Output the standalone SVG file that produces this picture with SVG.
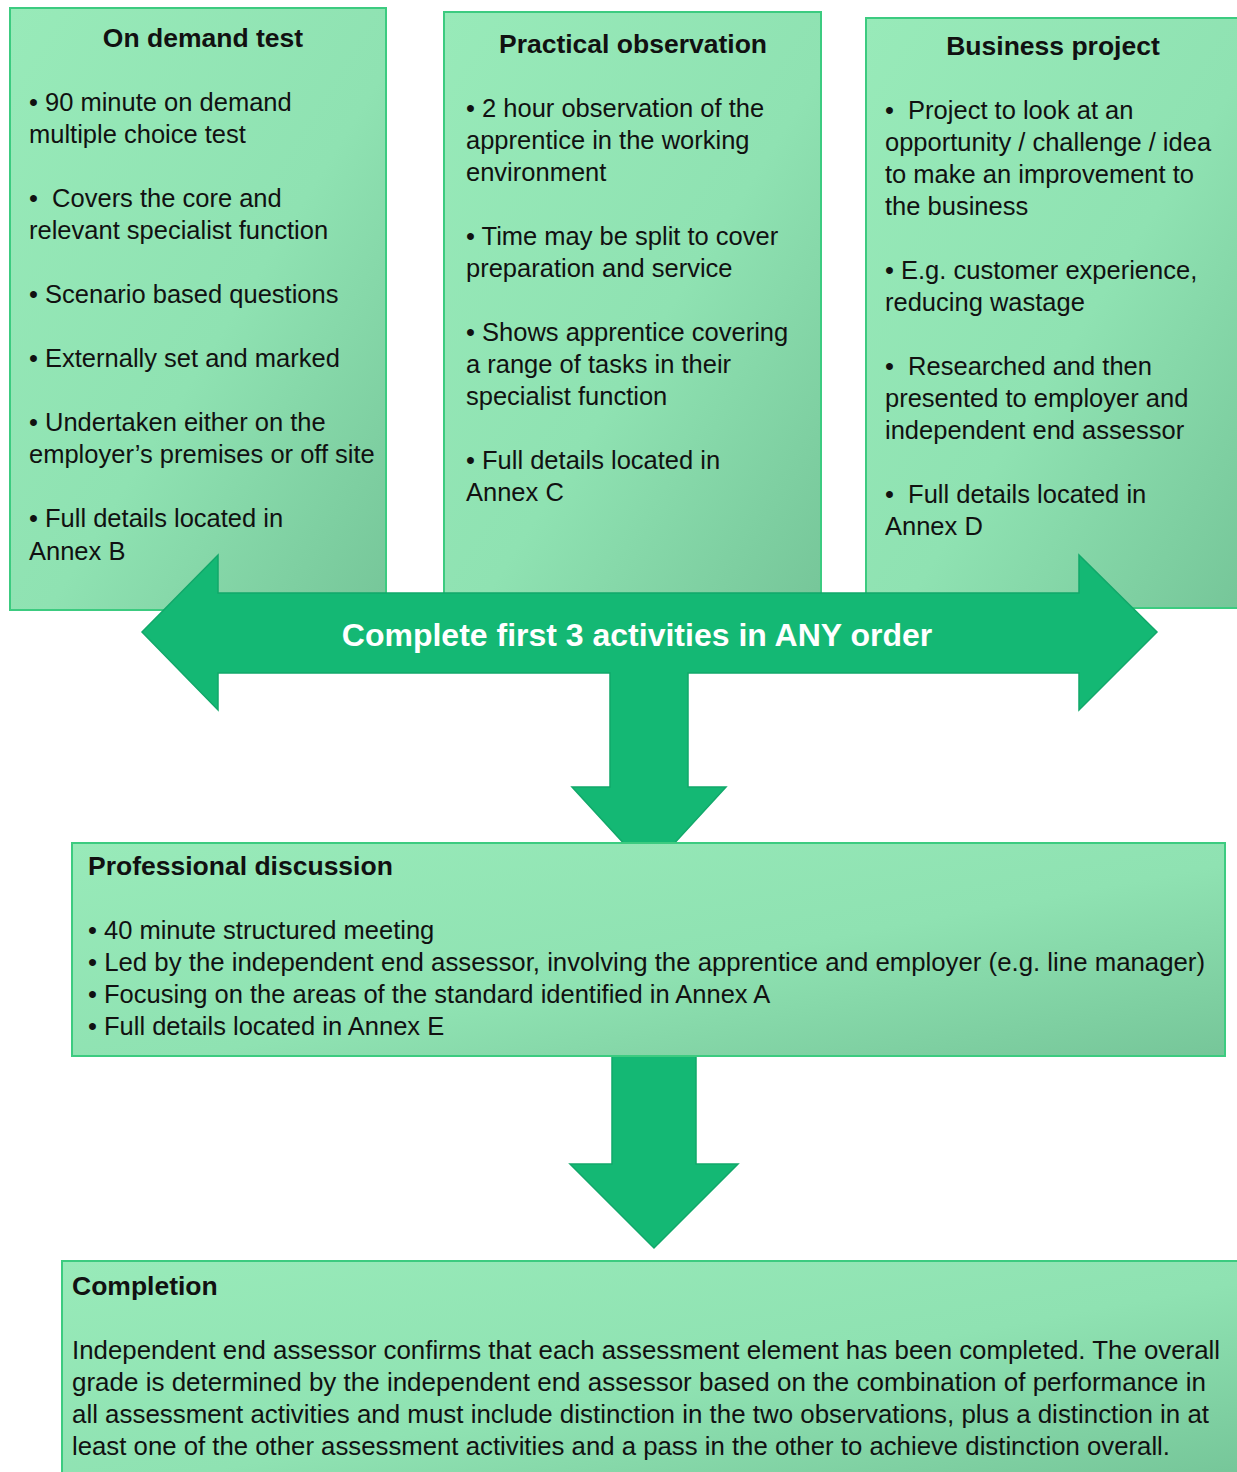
<svg xmlns="http://www.w3.org/2000/svg" width="1237" height="1472" viewBox="0 0 1237 1472">
<defs>
<linearGradient id="g" x1="0" y1="0" x2="1" y2="1">
<stop offset="0" stop-color="#98eab9"/>
<stop offset="0.55" stop-color="#8fe2b2"/>
<stop offset="1" stop-color="#76c699"/>
</linearGradient>
<style>
.box{fill:url(#g);stroke:#3ccb80;stroke-width:2}
.arr{fill:#14b874;stroke:#11a86a;stroke-width:1.5}
text{font-family:"Liberation Sans",Arial,sans-serif;fill:#111}
.t{font-size:26.5px;font-weight:bold}
.b{font-size:25.5px}
.w{font-size:32px;font-weight:bold;fill:#fff}
</style>
</defs>
<g id="node-ondemand">
<rect class="box" x="10" y="8" width="376" height="602"/>
<text class="t" x="203" y="47" text-anchor="middle">On demand test</text>
<text class="b" x="29" y="111" xml:space="preserve">• 90 minute on demand</text>
<text class="b" x="29" y="143">multiple choice test</text>
<text class="b" x="29" y="207" xml:space="preserve">•  Covers the core and</text>
<text class="b" x="29" y="239">relevant specialist function</text>
<text class="b" x="29" y="303">• Scenario based questions</text>
<text class="b" x="29" y="367">• Externally set and marked</text>
<text class="b" x="29" y="431">• Undertaken either on the</text>
<text class="b" x="29" y="463">employer’s premises or off site</text>
<text class="b" x="29" y="527">• Full details located in</text>
<text class="b" x="29" y="560">Annex B</text>
</g>
<g id="node-practical">
<rect class="box" x="444" y="12" width="377" height="590"/>
<text class="t" x="633" y="53" text-anchor="middle">Practical observation</text>
<text class="b" x="466" y="117">• 2 hour observation of the</text>
<text class="b" x="466" y="149">apprentice in the working</text>
<text class="b" x="466" y="181">environment</text>
<text class="b" x="466" y="245">• Time may be split to cover</text>
<text class="b" x="466" y="277">preparation and service</text>
<text class="b" x="466" y="341">• Shows apprentice covering</text>
<text class="b" x="466" y="373">a range of tasks in their</text>
<text class="b" x="466" y="405">specialist function</text>
<text class="b" x="466" y="469">• Full details located in</text>
<text class="b" x="466" y="501">Annex C</text>
</g>
<g id="node-business">
<rect class="box" x="866" y="18" width="373" height="590"/>
<text class="t" x="1053" y="55" text-anchor="middle">Business project</text>
<text class="b" x="885" y="119" xml:space="preserve">•  Project to look at an</text>
<text class="b" x="885" y="151">opportunity / challenge / idea</text>
<text class="b" x="885" y="183">to make an improvement to</text>
<text class="b" x="885" y="215">the business</text>
<text class="b" x="885" y="279">• E.g. customer experience,</text>
<text class="b" x="885" y="311">reducing wastage</text>
<text class="b" x="885" y="375" xml:space="preserve">•  Researched and then</text>
<text class="b" x="885" y="407">presented to employer and</text>
<text class="b" x="885" y="439">independent end assessor</text>
<text class="b" x="885" y="503" xml:space="preserve">•  Full details located in</text>
<text class="b" x="885" y="535">Annex D</text>
</g>
<g id="connectors">
<path class="arr" d="M142,632 L218,555 L218,593 L1079,593 L1079,555 L1157,632 L1079,710 L1079,673 L688,673 L688,787 L726,787 L649,871 L572,787 L610,787 L610,673 L218,673 L218,710 Z"/>
<text class="w" x="637" y="646" text-anchor="middle">Complete first 3 activities in ANY order</text>
<path class="arr" d="M612,1056 L696,1056 L696,1164 L738,1164 L654,1248 L570,1164 L612,1164 Z"/>
</g>
<g id="node-discussion">
<rect class="box" x="72" y="843" width="1153" height="213"/>
<text class="t" x="88" y="875">Professional discussion</text>
<text class="b" x="88" y="939">• 40 minute structured meeting</text>
<text class="b" x="88" y="971" textLength="1117" lengthAdjust="spacingAndGlyphs">• Led by the independent end assessor, involving the apprentice and employer (e.g. line manager)</text>
<text class="b" x="88" y="1003">• Focusing on the areas of the standard identified in Annex A</text>
<text class="b" x="88" y="1035">• Full details located in Annex E</text>
</g>
<g id="node-completion">
<rect class="box" x="62" y="1261" width="1176" height="215"/>
<text class="t" x="72" y="1295">Completion</text>
<text class="b" x="72" y="1359" textLength="1148" lengthAdjust="spacingAndGlyphs">Independent end assessor confirms that each assessment element has been completed. The overall</text>
<text class="b" x="72" y="1391" textLength="1134" lengthAdjust="spacingAndGlyphs">grade is determined by the independent end assessor based on the combination of performance in</text>
<text class="b" x="72" y="1423" textLength="1137" lengthAdjust="spacingAndGlyphs">all assessment activities and must include distinction in the two observations, plus a distinction in at</text>
<text class="b" x="72" y="1455" textLength="1098" lengthAdjust="spacingAndGlyphs">least one of the other assessment activities and a pass in the other to achieve distinction overall.</text>
</g>
</svg>
